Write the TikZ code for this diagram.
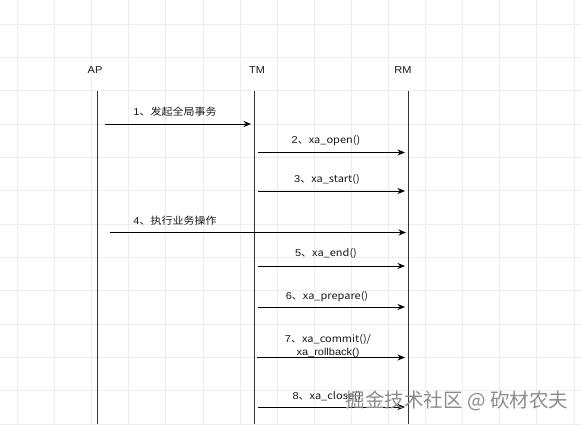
\documentclass[tikz,border=0pt]{standalone}
\usepackage{fontspec}
\setmainfont{Liberation Sans}
\newfontfamily\cjk{Noto Sans CJK SC}
\usetikzlibrary{arrows.meta}

\begin{document}
\begin{tikzpicture}[x=1pt, y=-1pt]
    \tikzset{
        role/.style={
                font=\fontsize{10}{12}\selectfont, text=black!90, inner sep=0pt, xscale=1.1, transform shape
            },
        msg label/.style={
                font=\fontsize{10}{13}\selectfont, text=black!90, inner sep=0pt, align=center, xscale=1.1, transform shape
            },
        lifeline/.style={draw=black!80, line width=0.9pt},
        msg/.style={draw=black, line width=0.8pt, -{Stealth[length=7.5pt, width=6pt]}},
        grid line/.style={draw=black!7, line width=0.6pt},
        watermark/.style={font=\cjk\fontsize{19.5}{21}\selectfont, text=black!45, inner sep=0pt}
    }

    \fill[white] (0,0) rectangle (582,424);
    \useasboundingbox (0,0) rectangle (582,424);

    % background grid
    \foreach \gx in {0,...,15}
        \draw[grid line] (17.3+37.1*\gx, 0) -- (17.3+37.1*\gx, 424);
    \foreach \gy in {0,...,12}
        \draw[grid line] (0, 24+33.33*\gy) -- (582, 24+33.33*\gy);

    % roles and lifelines
    \node[role] (ap) at (95, 70) {AP};
    \node[role] (tm) at (257, 70) {TM};
    \node[role] (rm) at (403, 70) {RM};
    \coordinate (ap top) at (97, 91);
    \coordinate (ap end) at (97, 424);
    \coordinate (tm top) at (254.5, 91);
    \coordinate (tm end) at (254.5, 424);
    \coordinate (rm top) at (408, 91);
    \coordinate (rm end) at (408, 424);
    \draw[lifeline] (ap top) -- (ap end);
    \draw[lifeline] (tm top) -- (tm end);
    \draw[lifeline] (rm top) -- (rm end);

    % messages
    \coordinate (begin from) at (105, 124);
    \coordinate (begin to) at (251, 124);
    \coordinate (open from) at (258, 152.5);
    \coordinate (open to) at (405, 152.5);
    \coordinate (start from) at (258, 191);
    \coordinate (start to) at (405, 191);
    \coordinate (work from) at (110, 232.5);
    \coordinate (work to) at (406, 232.5);
    \coordinate (end from) at (258, 266);
    \coordinate (end to) at (405, 266);
    \coordinate (prepare from) at (258, 307);
    \coordinate (prepare to) at (405, 307);
    \coordinate (commit from) at (257, 357.5);
    \coordinate (commit to) at (405, 357.5);
    \coordinate (close from) at (258, 407);
    \coordinate (close to) at (405, 407);

    \draw[msg] (begin from) -- (begin to);
    \draw[msg] (open from) -- (open to);
    \draw[msg] (start from) -- (start to);
    \draw[msg] (work from) -- (work to);
    \draw[msg] (end from) -- (end to);
    \draw[msg] (prepare from) -- (prepare to);
    \draw[msg] (commit from) -- (commit to);
    \draw[msg] (close from) -- (close to);

    \node[msg label] (begin label) at (175, 112) {1\cjk{、发起全局事务}};
    \node[msg label] (open label) at (326, 141) {2\cjk{、}xa\_open()};
    \node[msg label] (start label) at (327, 179) {3\cjk{、}xa\_start()};
    \node[msg label] (work label) at (175, 221) {4\cjk{、执行业务操作}};
    \node[msg label] (end label) at (326, 253.5) {5\cjk{、}xa\_end()};
    \node[msg label] (prepare label) at (327, 296.5) {6\cjk{、}xa\_prepare()};
    \node[msg label] (commit label) at (328, 345.5) {7\cjk{、}xa\_commit()/\\xa\_rollback()};
    \node[msg label] (close label) at (327, 396) {8\cjk{、}xa\_close()};

    \node[watermark] (mark) at (457, 401) {掘金技术社区 @ 砍材农夫};
\end{tikzpicture}
\end{document}
